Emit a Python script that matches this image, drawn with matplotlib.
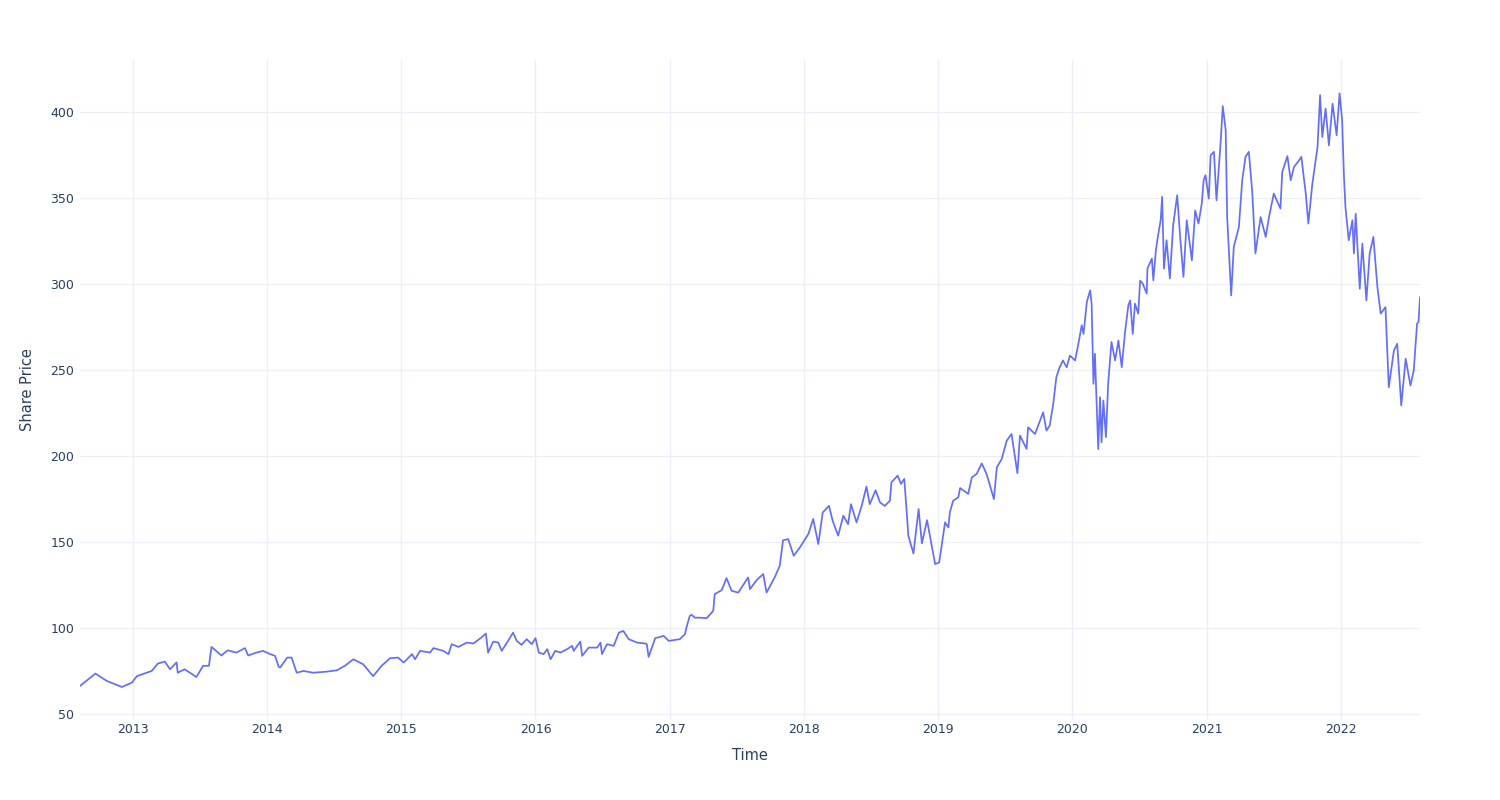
import matplotlib
matplotlib.use("Agg")
import matplotlib.pyplot as plt
import matplotlib.dates as mdates
import pandas as pd

# precio de la accion (aprox.)
fechas = [
    "2012-08-09", "2012-09-20", "2012-10-21", "2012-12-01", "2012-12-28",
    "2013-01-11", "2013-02-20", "2013-03-09", "2013-03-28", "2013-04-11", "2013-04-29",
    "2013-05-02", "2013-05-21", "2013-06-22", "2013-07-10", "2013-07-26", "2013-08-02",
    "2013-08-29", "2013-09-15", "2013-10-09", "2013-11-01", "2013-11-10", "2013-12-02",
    "2013-12-20",
    "2014-01-09", "2014-01-22", "2014-02-01", "2014-02-05", "2014-02-24", "2014-03-08",
    "2014-03-22", "2014-04-09", "2014-05-06", "2014-06-11", "2014-07-09", "2014-07-31",
    "2014-08-23", "2014-09-19", "2014-10-16", "2014-11-08", "2014-12-01", "2014-12-23",
    "2015-01-07", "2015-01-30", "2015-02-07", "2015-02-21", "2015-03-20", "2015-03-29",
    "2015-04-25", "2015-05-09", "2015-05-18", "2015-06-05", "2015-06-28", "2015-07-16",
    "2015-08-07", "2015-08-19", "2015-08-25", "2015-09-08", "2015-09-22", "2015-10-01",
    "2015-10-14", "2015-11-01", "2015-11-11", "2015-11-24", "2015-12-08", "2015-12-22",
    "2016-01-01", "2016-01-10", "2016-01-23", "2016-02-02", "2016-02-11", "2016-02-24",
    "2016-03-09", "2016-03-27", "2016-04-10", "2016-04-14", "2016-05-02", "2016-05-07",
    "2016-05-25", "2016-06-17", "2016-06-26", "2016-06-30", "2016-07-14", "2016-08-01",
    "2016-08-15", "2016-08-27", "2016-09-11", "2016-10-04", "2016-10-26", "2016-10-30",
    "2016-11-04", "2016-11-22", "2016-12-15", "2016-12-29",
    "2017-01-28", "2017-02-11", "2017-02-15", "2017-02-24", "2017-03-01", "2017-03-10",
    "2017-03-24", "2017-04-11", "2017-04-29", "2017-05-03", "2017-05-22", "2017-06-04",
    "2017-06-18", "2017-07-06", "2017-08-02", "2017-08-07", "2017-08-25", "2017-09-12",
    "2017-09-21", "2017-10-14", "2017-10-27", "2017-11-05", "2017-11-19", "2017-12-04",
    "2017-12-21",
    "2018-01-13", "2018-01-26", "2018-02-09", "2018-02-21", "2018-03-10", "2018-03-20",
    "2018-04-04", "2018-04-18", "2018-05-01", "2018-05-09", "2018-05-24", "2018-06-07",
    "2018-06-20", "2018-06-29", "2018-07-15", "2018-07-27", "2018-08-09", "2018-08-23",
    "2018-08-27", "2018-09-13", "2018-09-22", "2018-10-01", "2018-10-08", "2018-10-12",
    "2018-10-26", "2018-11-09", "2018-11-18", "2018-12-02", "2018-12-24",
    "2019-01-04", "2019-01-20", "2019-01-29", "2019-02-02", "2019-02-11", "2019-02-25",
    "2019-03-02", "2019-03-24", "2019-04-03", "2019-04-16", "2019-04-30", "2019-05-13",
    "2019-06-02", "2019-06-10", "2019-06-23", "2019-07-07", "2019-07-20", "2019-08-05",
    "2019-08-12", "2019-08-30", "2019-09-03", "2019-09-22", "2019-10-14", "2019-10-23",
    "2019-11-01", "2019-11-06", "2019-11-10", "2019-11-19", "2019-11-28", "2019-12-07",
    "2019-12-17", "2019-12-26",
    "2020-01-09", "2020-01-18", "2020-01-27", "2020-02-01", "2020-02-10", "2020-02-19",
    "2020-02-23", "2020-02-28", "2020-03-03", "2020-03-12", "2020-03-17", "2020-03-21",
    "2020-03-26", "2020-04-02", "2020-04-08", "2020-04-17", "2020-04-27", "2020-05-06",
    "2020-05-15", "2020-05-24", "2020-06-02", "2020-06-07", "2020-06-14", "2020-06-20",
    "2020-06-29", "2020-07-04", "2020-07-11", "2020-07-22", "2020-07-24", "2020-08-05",
    "2020-08-09", "2020-08-16", "2020-08-22", "2020-08-29", "2020-09-02", "2020-09-07",
    "2020-09-14", "2020-09-23", "2020-10-02", "2020-10-13", "2020-10-21", "2020-10-30",
    "2020-11-08", "2020-11-22", "2020-12-01", "2020-12-10", "2020-12-19", "2020-12-24",
    "2020-12-29",
    "2021-01-07", "2021-01-12", "2021-01-21", "2021-01-28", "2021-02-08", "2021-02-14",
    "2021-02-22", "2021-02-26", "2021-03-09", "2021-03-16", "2021-03-30", "2021-04-08",
    "2021-04-17", "2021-04-26", "2021-05-05", "2021-05-14", "2021-05-28", "2021-06-11",
    "2021-06-20", "2021-07-03", "2021-07-21", "2021-07-26", "2021-08-09", "2021-08-18",
    "2021-08-27", "2021-09-10", "2021-09-16", "2021-09-28", "2021-10-05", "2021-10-16",
    "2021-10-30", "2021-11-06", "2021-11-12", "2021-11-21", "2021-11-30", "2021-12-10",
    "2021-12-21", "2021-12-29",
    "2022-01-05", "2022-01-10", "2022-01-14", "2022-01-23", "2022-02-02", "2022-02-06",
    "2022-02-11", "2022-02-22", "2022-03-01", "2022-03-12", "2022-03-21", "2022-03-31",
    "2022-04-11", "2022-04-20", "2022-05-03", "2022-05-12", "2022-05-26", "2022-06-04",
    "2022-06-15", "2022-06-27", "2022-07-10", "2022-07-19", "2022-07-28", "2022-08-01",
    "2022-08-05",
]

precios = [
    66.3, 73.5, 69.2, 65.7, 68.2,
    72.0, 75.0, 79.3, 80.5, 76.0, 80.0,
    74.0, 76.0, 71.5, 78.0, 78.0, 89.0,
    84.0, 87.0, 85.7, 88.3, 84.0, 85.7,
    86.7,
    84.8, 83.8, 77.4, 77.0, 82.8, 82.8,
    74.0, 75.0, 74.0, 74.6, 75.4, 78.0,
    81.8, 78.9, 72.0, 78.0, 82.4, 82.8,
    79.9, 84.8, 81.8, 86.7, 85.7, 88.3,
    86.7, 84.8, 90.6, 89.0, 91.5, 91.0,
    94.5, 96.8, 85.7, 92.1, 91.5, 86.7,
    91.0, 97.3, 92.5, 90.2, 93.5, 90.6,
    94.1, 85.7, 84.8, 87.7, 81.8, 86.7,
    85.7, 87.7, 89.6, 86.7, 92.1, 83.8,
    88.6, 88.6, 91.5, 84.8, 90.6, 89.6,
    97.3, 98.3, 93.5, 91.5, 91.0, 90.6,
    83.2, 94.1, 95.4, 92.5,
    93.5, 96.4, 100.3, 107.0, 107.7, 106.0,
    106.0, 105.7, 110.0, 119.7, 122.0, 129.0,
    121.6, 120.6, 129.4, 122.6, 127.8, 131.4,
    120.6, 129.8, 136.2, 151.0, 151.7, 142.0,
    146.9,
    154.7, 163.4, 148.8, 167.2, 171.0, 162.4,
    153.7, 165.3, 160.4, 172.0, 161.4, 171.0,
    182.2, 172.0, 180.1, 173.0, 171.0, 174.0,
    184.7, 188.6, 183.8, 186.7, 166.3, 153.7,
    143.3, 169.2, 149.2, 162.7, 137.2,
    138.1, 161.4, 158.5, 167.2, 174.0, 176.0,
    181.4, 178.0, 187.6, 189.6, 195.7, 189.6,
    175.0, 193.4, 198.2, 209.0, 212.8, 190.0,
    211.9, 204.1, 216.7, 212.8, 225.4, 214.8,
    217.7, 224.5, 229.4, 245.9, 251.6, 255.6,
    251.6, 258.4,
    255.6, 265.3, 276.0, 271.0, 289.6, 296.4,
    288.6, 242.0, 259.5, 204.1, 234.2, 208.0,
    232.3, 211.0, 242.0, 266.3, 255.6, 267.2,
    251.6, 272.2, 287.6, 290.5, 271.0, 288.6,
    282.8, 302.0, 300.3, 294.5, 309.0, 314.8,
    302.2, 319.7, 328.4, 337.1, 350.7, 309.0,
    325.5, 303.2, 334.2, 351.7, 327.4, 304.2,
    337.1, 313.8, 342.8, 335.2, 346.9, 360.4,
    363.3,
    349.7, 374.9, 376.9, 348.7, 381.7, 403.5,
    389.5, 339.0, 293.4, 321.6, 333.2, 360.4,
    374.0, 376.9, 354.6, 317.8, 339.0, 327.4,
    339.0, 352.6, 343.9, 365.2, 374.4, 360.4,
    368.1, 372.0, 374.0, 352.6, 335.2, 358.4,
    379.7, 409.9, 385.5, 402.0, 380.7, 404.9,
    386.5, 410.9,
    395.4, 362.3, 344.8, 325.5, 337.1, 317.8,
    340.9, 297.3, 323.6, 290.5, 317.8, 327.4,
    298.3, 282.8, 286.6, 240.0, 261.4, 265.3,
    229.4, 256.6, 241.0, 249.8, 277.0, 278.0,
    292.3,
]

df = pd.DataFrame({"fecha": pd.to_datetime(fechas), "precio": precios})

texto = "#2a3f5f"
rejilla = "#ebf0f8"

fig = plt.figure(figsize=(15, 8), dpi=100)
ax = fig.add_axes([80 / 1500, 1 - 720 / 800, 1340 / 1500, 660 / 800])

ax.plot(df["fecha"], df["precio"], color="#636efa", linewidth=1.25)

ax.set_xlim(df["fecha"].iloc[0], df["fecha"].iloc[-1])
ax.set_ylim(46.5, 430.3)
ax.set_yticks(range(50, 401, 50))
ax.xaxis.set_major_locator(mdates.YearLocator())
ax.xaxis.set_major_formatter(mdates.DateFormatter("%Y"))

ax.grid(True, color=rejilla, linewidth=1)
ax.set_axisbelow(True)
for lado in ax.spines.values():
    lado.set_visible(False)
ax.tick_params(axis="x", length=0, labelsize=9, labelcolor=texto, pad=2)
ax.tick_params(axis="y", length=0, labelsize=9, labelcolor=texto, pad=4)

ax.set_xlabel("Time", fontsize=10.5, color=texto, labelpad=9)
ax.set_ylabel("Share Price", fontsize=10.5, color=texto, labelpad=11)

fig.savefig("out.png")
